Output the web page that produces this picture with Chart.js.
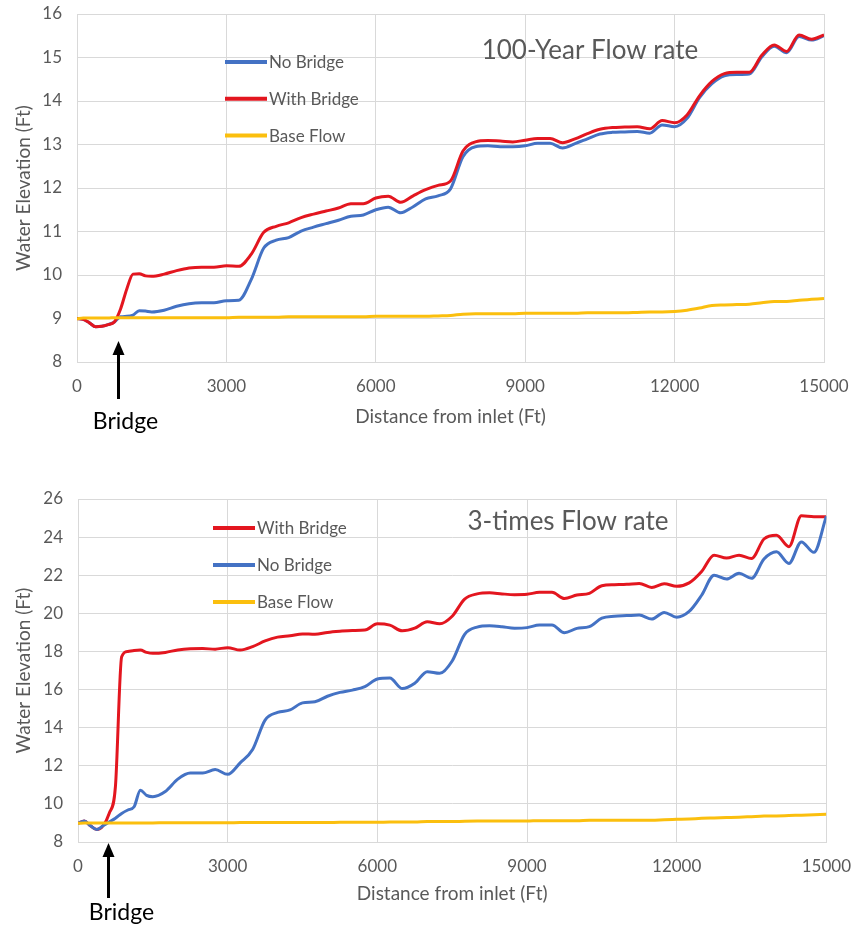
<!DOCTYPE html>
<html><head><meta charset="utf-8">
<script src="https://cdn.jsdelivr.net/npm/chart.js@4/dist/chart.umd.min.js"></script>
<style>
html,body{margin:0;padding:0;background:#fff;}
#wrap{position:relative;width:851px;height:928px;overflow:hidden;}
#c1{position:absolute;left:0;top:0;}
#c2{position:absolute;left:0;top:440px;}
</style></head><body>
<div id="wrap"><canvas id="c1" width="851" height="440"></canvas><canvas id="c2" width="851" height="488"></canvas></div>
<script>
// ---------- DATA ----------
const distances = [0,125,250,375,500,625,750,875,1000,1125,1250,1375,1500,
  1750,2000,2250,2500,2750,3000,3250,3500,3750,4000,
  4250,4500,4750,5000,5250,5500,5750,6000,6250,6500,
  6750,7000,7250,7500,7750,8000,8250,8500,8750,9000,
  9250,9500,9750,10000,10250,10500,10750,11000,11250,11500,
  11750,12000,12250,12500,12750,13000,13250,13500,13750,14000,
  14250,14500,14750,15000];

const xTicks = [0,3000,6000,9000,12000,15000];

// 100-Year flow rate
const q100NoBridge = [9.00,8.98,8.90,8.81,8.82,8.86,8.92,9.04,9.05,9.08,9.18,9.17,9.15,
  9.19,9.28,9.34,9.36,9.36,9.41,9.42,9.90,10.62,10.80,
  10.86,11.01,11.10,11.18,11.26,11.35,11.38,11.50,11.56,11.43,
  11.57,11.75,11.82,11.98,12.72,12.95,12.97,12.95,12.95,12.97,
  13.03,13.03,12.92,13.02,13.13,13.24,13.28,13.29,13.30,13.26,
  13.45,13.41,13.60,14.08,14.40,14.58,14.61,14.62,15.01,15.26,
  15.11,15.48,15.40,15.50];
const q100WithBridge = [9.00,8.98,8.90,8.81,8.82,8.86,8.92,9.22,9.68,10.02,10.03,9.98,9.97,
  10.02,10.10,10.16,10.18,10.18,10.21,10.20,10.48,10.98,11.12,
  11.20,11.32,11.40,11.47,11.54,11.64,11.64,11.77,11.81,11.67,
  11.82,11.96,12.06,12.16,12.85,13.06,13.09,13.08,13.06,13.10,
  13.14,13.14,13.04,13.13,13.25,13.35,13.39,13.40,13.41,13.36,
  13.55,13.50,13.68,14.12,14.45,14.63,14.66,14.66,15.05,15.29,
  15.14,15.52,15.42,15.52];
const q100BaseFlow = [8.99,9.01,9.01,9.01,9.01,9.01,9.02,9.02,9.02,9.02,9.02,9.02,9.02,
  9.02,9.02,9.02,9.02,9.02,9.02,9.03,9.03,9.03,9.03,
  9.04,9.04,9.04,9.04,9.04,9.04,9.04,9.05,9.05,9.05,
  9.05,9.05,9.06,9.07,9.10,9.11,9.11,9.11,9.11,9.12,
  9.12,9.12,9.12,9.12,9.13,9.13,9.13,9.13,9.14,9.15,
  9.15,9.16,9.19,9.24,9.30,9.31,9.32,9.33,9.36,9.39,
  9.39,9.42,9.44,9.46];

// 3-times flow rate
const q3xWithBridge = [8.98,9.10,8.85,8.65,8.85,9.50,10.90,17.72,18.00,18.05,18.07,17.95,17.90,
  17.95,18.08,18.14,18.15,18.12,18.20,18.07,18.25,18.55,18.75,
  18.82,18.92,18.90,19.00,19.06,19.10,19.12,19.45,19.38,19.08,
  19.22,19.56,19.45,19.85,20.75,21.02,21.08,21.02,20.98,21.00,
  21.10,21.10,20.78,20.96,21.05,21.45,21.50,21.52,21.57,21.36,
  21.55,21.42,21.60,22.20,23.05,22.90,23.05,22.88,23.90,24.10,
  23.50,25.12,25.07,25.07];
const q3xNoBridge = [8.98,9.10,8.85,8.65,8.85,9.05,9.25,9.50,9.68,9.85,10.72,10.45,10.38,
  10.65,11.30,11.62,11.62,11.80,11.55,12.15,12.85,14.40,14.80,
  14.93,15.30,15.36,15.65,15.85,15.97,16.15,16.55,16.60,16.05,
  16.33,16.94,16.85,17.50,18.90,19.28,19.35,19.30,19.22,19.25,
  19.39,19.39,18.98,19.21,19.30,19.75,19.85,19.88,19.91,19.70,
  20.05,19.80,20.10,20.95,22.00,21.80,22.10,21.84,22.85,23.23,
  22.62,23.75,23.20,25.10];
const q3xBaseFlow = [8.98,9.00,9.00,9.00,9.00,9.00,9.00,9.00,9.00,9.00,9.00,9.00,9.00,
  9.01,9.01,9.01,9.01,9.01,9.01,9.02,9.02,9.02,9.02,
  9.02,9.02,9.02,9.02,9.03,9.03,9.03,9.03,9.05,9.05,
  9.05,9.07,9.07,9.07,9.09,9.10,9.10,9.10,9.10,9.10,
  9.12,9.12,9.12,9.12,9.14,9.14,9.14,9.14,9.14,9.14,
  9.17,9.19,9.21,9.24,9.26,9.28,9.30,9.33,9.36,9.37,
  9.39,9.41,9.43,9.45];

const bridgeTop = 830;
const bridgeBottom = 610;

// ---------- STYLE ----------
const BLUE = '#4472C4', RED = '#E3161F', GOLD = '#FBBF0E';
const GRID = '#D9D9D9', TXT = '#595959';
Chart.defaults.font.family = 'Lato, "Open Sans", sans-serif';
Chart.defaults.color = TXT;

const pts = vals => vals.map((v, i) => ({x: distances[i], y: v}));

const overlay = {
  id: 'overlay',
  afterDraw(chart, args, o) {
    const ctx = chart.ctx, a = chart.chartArea, xs = chart.scales.x;
    ctx.save();
    // in-plot title
    ctx.font = '26px Lato';
    ctx.fillStyle = TXT; ctx.textAlign = 'center'; ctx.textBaseline = 'middle';
    ctx.fillText(o.title, a.left + o.titleDx, a.top + o.titleDy);
    // legend
    o.legendOrder.forEach((idx, k) => {
      const ds = chart.data.datasets[idx];
      const y = a.top + o.legendDy + k * o.legendGap;
      const x0 = a.left + o.legendDx;
      ctx.strokeStyle = ds.borderColor; ctx.lineWidth = 4; ctx.lineCap = 'butt';
      ctx.beginPath(); ctx.moveTo(x0, y); ctx.lineTo(x0 + 42, y); ctx.stroke();
      ctx.font = '17px Lato'; ctx.textAlign = 'left'; ctx.fillStyle = TXT;
      ctx.fillText(ds.label, x0 + 44, y + 1);
    });
    // bridge arrow
    const bx = Math.round(xs.getPixelForValue(o.bridgeAt)) + 0.5;
    const tipY = a.bottom + o.arrowTip, tailY = a.bottom + o.arrowTail;
    ctx.strokeStyle = '#000'; ctx.fillStyle = '#000'; ctx.lineWidth = 3;
    ctx.beginPath(); ctx.moveTo(bx, tailY); ctx.lineTo(bx, tipY + 10); ctx.stroke();
    ctx.beginPath(); ctx.moveTo(bx, tipY); ctx.lineTo(bx - 6, tipY + 14); ctx.lineTo(bx + 6, tipY + 14); ctx.closePath(); ctx.fill();
    ctx.font = '23px Lato'; ctx.textAlign = 'center'; ctx.fillStyle = '#000';
    ctx.fillText('Bridge', bx + o.textDx, a.bottom + o.textDy);
    ctx.restore();
  }
};

function makeChart(id, sets, yMin, yMax, yStep, yWidth, xHeight, pad, titlePad, ov) {
  return new Chart(document.getElementById(id), {
    type: 'line',
    data: {datasets: sets.map(s => ({
      label: s.label, data: pts(s.values), borderColor: s.color, backgroundColor: s.color,
      borderWidth: 3, pointRadius: 0, cubicInterpolationMode: 'monotone', fill: false, order: s.order
    }))},
    options: {
      responsive: false, animation: false,
      layout: {padding: pad, autoPadding: false},
      plugins: {legend: {display: false}, tooltip: {enabled: false}, overlay: ov},
      scales: {
        x: {
          type: 'linear', min: 0, max: 15000,
          afterBuildTicks: sc => { sc.ticks = xTicks.map(v => ({value: v})); },
          afterFit: sc => { sc.height = xHeight; },
          grid: {color: GRID, drawTicks: true, tickLength: 14, tickColor: 'rgba(0,0,0,0)'},
          border: {color: GRID},
          ticks: {padding: 0, font: {size: 17}, color: TXT, callback: v => String(v)},
          title: {display: true, text: 'Distance from inlet (Ft)', font: {size: 19}, color: TXT, padding: {top: 0, bottom: titlePad}}
        },
        y: {
          min: yMin, max: yMax,
          afterFit: sc => { sc.width = yWidth; },
          grid: {color: GRID, drawTicks: true, tickLength: 15, tickColor: 'rgba(0,0,0,0)'},
          border: {color: GRID},
          ticks: {stepSize: yStep, padding: 0, font: {size: 17}, color: TXT},
          title: {display: true, text: 'Water Elevation (Ft)', font: {size: 19}, color: TXT, padding: 0}
        }
      }
    },
    plugins: [overlay]
  });
}

makeChart('c1', [
  {label: 'No Bridge', values: q100NoBridge, color: BLUE, order: 3},
  {label: 'With Bridge', values: q100WithBridge, color: RED, order: 2},
  {label: 'Base Flow', values: q100BaseFlow, color: GOLD, order: 1}
], 8, 16, 1, 65, 78, {left: 12, top: 14, right: 27, bottom: 0}, 12,
{title: '100-Year Flow rate', titleDx: 513, titleDy: 37, legendOrder: [0,1,2], legendDx: 148, legendDy: 48, legendGap: 36.7,
 bridgeAt: bridgeTop, arrowTip: -21, arrowTail: 37, textDx: 7, textDy: 60});

makeChart('c2', [
  {label: 'With Bridge', values: q3xWithBridge, color: RED, order: 3},
  {label: 'No Bridge', values: q3xNoBridge, color: BLUE, order: 2},
  {label: 'Base Flow', values: q3xBaseFlow, color: GOLD, order: 1}
], 8, 26, 2, 66, 86, {left: 12, top: 59, right: 24, bottom: 0}, 23,
{title: '3-times Flow rate', titleDx: 490, titleDy: 23, legendOrder: [0,1,2], legendDx: 135, legendDy: 29, legendGap: 37,
 bridgeAt: bridgeBottom, arrowTip: 1, arrowTail: 56, textDx: 13, textDy: 71});
</script>
</body></html>
